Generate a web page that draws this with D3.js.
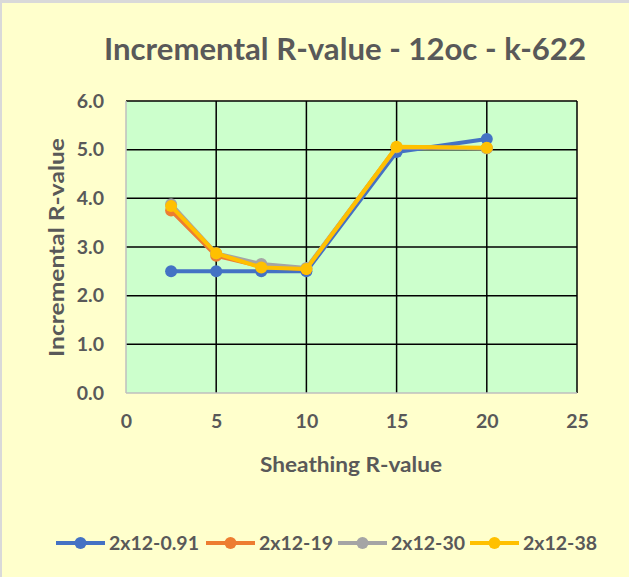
<!DOCTYPE html>
<html>
<head>
<meta charset="utf-8">
<script src="https://cdn.jsdelivr.net/npm/d3@7"></script>
<style>
  html, body { margin: 0; padding: 0; background: #FFFFCC; }
  svg { display: block; }
  text { font-family: Lato, "Open Sans", sans-serif; font-weight: bold; fill: #595959; }
</style>
</head>
<body>
<svg id="chart" width="629" height="577"></svg>
<script>
// Sheathing R-value (x) for each measured point
const sheathing = [2.5, 5, 7.5, 10, 15, 20];
const seriesNames = ["2x12-0.91", "2x12-19", "2x12-30", "2x12-38"];
const seriesColors = ["#4472C4", "#ED7D31", "#A5A5A5", "#FFC000"];
// Incremental R-value for each series
const r091 = [2.5, 2.5, 2.5, 2.5, 4.95, 5.22];
const r19  = [3.75, 2.82, 2.6, 2.55, 5.05, 5.03];
const r30  = [3.88, 2.87, 2.65, 2.57, 5.05, 5.03];
const r38  = [3.84, 2.87, 2.58, 2.55, 5.06, 5.04];
const xTicks = [0, 5, 10, 15, 20, 25];
const yTicks = [0, 1, 2, 3, 4, 5, 6];

const title = "Incremental R-value - 12oc - k-622";
const xTitle = "Sheathing R-value";
const yTitle = "Incremental R-value";

const W = 629, H = 577;
const plot = { left: 126, right: 577, top: 101, bottom: 393 };

const svg = d3.select("#chart");

// chart background and its faint outer edge
svg.append("rect").attr("width", W).attr("height", H).attr("fill", "#FFFFCC");
svg.append("path").attr("d", `M0.5,${H} V1.5 H${W}`)
  .attr("fill", "none").attr("stroke", "#D9D9D9").attr("stroke-width", 3);

const x = d3.scaleLinear().domain([0, 25]).range([plot.left, plot.right]);
const y = d3.scaleLinear().domain([0, 6]).range([plot.bottom, plot.top]);

// plot area
svg.append("rect")
  .attr("x", plot.left).attr("y", plot.top)
  .attr("width", plot.right - plot.left).attr("height", plot.bottom - plot.top)
  .attr("fill", "#CCFFCC");

// gridlines
const grid = svg.append("g").attr("stroke", "#000").attr("stroke-width", 1.5);
grid.selectAll("line.h").data(yTicks.filter(d => d > 0)).join("line")
  .attr("x1", plot.left).attr("x2", plot.right)
  .attr("y1", d => y(d)).attr("y2", d => y(d));
grid.selectAll("line.v").data(xTicks.filter(d => d > 0)).join("line")
  .attr("y1", plot.top).attr("y2", plot.bottom)
  .attr("x1", d => x(d)).attr("x2", d => x(d));

// axis lines
svg.append("line").attr("x1", plot.left).attr("x2", plot.right)
  .attr("y1", plot.bottom).attr("y2", plot.bottom)
  .attr("stroke", "#BFBFBF").attr("stroke-width", 1.5);
svg.append("line").attr("x1", plot.left).attr("x2", plot.left)
  .attr("y1", plot.top).attr("y2", plot.bottom)
  .attr("stroke", "#BFBFBF").attr("stroke-width", 1.5);

// tick labels via d3 axes
const xAxis = svg.append("g")
  .attr("transform", `translate(0,${plot.bottom})`)
  .call(d3.axisBottom(x).tickValues(xTicks).tickFormat(d3.format("d")).tickSize(0).tickPadding(21));
const yAxis = svg.append("g")
  .attr("transform", `translate(${plot.left},0)`)
  .call(d3.axisLeft(y).tickValues(yTicks).tickFormat(d3.format(".1f")).tickSize(0).tickPadding(22));
[xAxis, yAxis].forEach(a => {
  a.select(".domain").remove();
  a.selectAll("text").attr("font-size", 19.5).attr("fill", "#595959")
    .attr("font-family", "Lato, sans-serif").attr("font-weight", "bold");
});

// series
const series = [r091, r19, r30, r38].map((vals, i) => ({
  name: seriesNames[i], color: seriesColors[i],
  points: sheathing.map((s, j) => ({ x: s, y: vals[j] }))
}));
const line = d3.line().x(d => x(d.x)).y(d => y(d.y));
const sg = svg.append("g").selectAll("g").data(series).join("g");
sg.append("path")
  .attr("d", d => line(d.points))
  .attr("fill", "none").attr("stroke", d => d.color)
  .attr("stroke-width", 4).attr("stroke-linejoin", "round");
sg.selectAll("circle").data(d => d.points.map(p => ({ ...p, color: d.color }))).join("circle")
  .attr("cx", d => x(d.x)).attr("cy", d => y(d.y)).attr("r", 6)
  .attr("fill", d => d.color);

// titles
svg.append("text").attr("x", 345).attr("y", 60).attr("text-anchor", "middle")
  .attr("font-size", 30).attr("textLength", 482).attr("lengthAdjust", "spacingAndGlyphs")
  .text(title);
svg.append("text").attr("x", 351).attr("y", 472).attr("text-anchor", "middle")
  .attr("font-size", 21).attr("textLength", 182).attr("lengthAdjust", "spacingAndGlyphs")
  .text(xTitle);
svg.append("text").attr("transform", "translate(64,247.5) rotate(-90)").attr("text-anchor", "middle")
  .attr("font-size", 21).attr("textLength", 219).attr("lengthAdjust", "spacingAndGlyphs")
  .text(yTitle);

// legend
const legendX = [56, 206, 338, 470];
const lg = svg.append("g").selectAll("g").data(series).join("g")
  .attr("transform", (d, i) => `translate(${legendX[i]},543)`);
lg.append("line").attr("x1", 0).attr("x2", 49).attr("y1", 0).attr("y2", 0)
  .attr("stroke", d => d.color).attr("stroke-width", 4);
lg.append("circle").attr("cx", 24.5).attr("cy", 0).attr("r", 6).attr("fill", d => d.color);
lg.append("text").attr("x", 53).attr("y", 7).attr("font-size", 19.5).text(d => d.name);
</script>
</body>
</html>
